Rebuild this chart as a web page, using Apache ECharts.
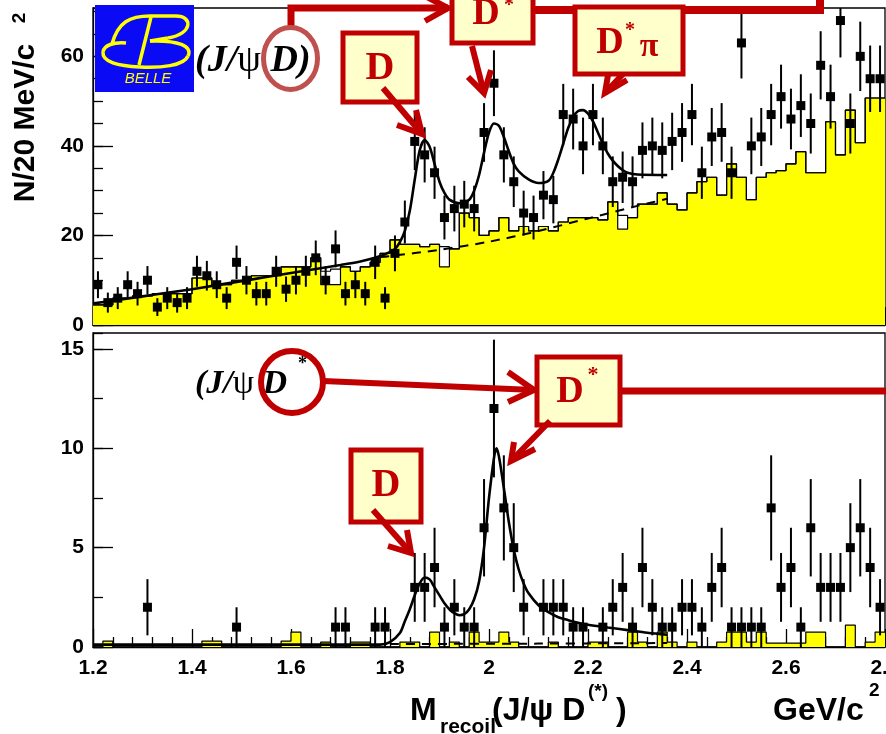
<!DOCTYPE html>
<html>
<head>
<meta charset="utf-8">
<script src="https://cdn.jsdelivr.net/npm/echarts@6/dist/echarts.min.js"></script>
<style>
  html, body { margin: 0; padding: 0; background: #fff; }
  #main { width: 886px; height: 734px; }
</style>
</head>
<body>
<div id="main"></div>
<script>
// Recoil mass spectra, 20 MeV bins from 1.2 to 2.8 GeV/c^2
const binStart = 1.2;
const binWidth = 0.02;

const xTickLabels = ['1.2', '1.4', '1.6', '1.8', '2', '2.2', '2.4', '2.6', '2.8'];
const topYTickLabels = ['0', '20', '40', '60'];
const botYTickLabels = ['0', '5', '10', '15'];

// J/psi D : data counts per bin
const topCounts = [
  9, 5, 6, 9, 7, 10, 4, 6, 5, 6,
  12, 11, 9, 6, 14, 10, 7, 7, 12, 8,
  10, 12, 15, 10, 17, 7, 9, 7, 14, 6,
  16, 23, 41, 38, 34, 24, 26, 27, 26, 43,
  54, 38, 32, 25, 24, 29, 28, 47, 46, 40,
  47, 40, 32, 33, 32, 39, 40, 39, 41, 43,
  47, 34, 42, 43, 34, 63, 40, 42, 47, 51,
  46, 49, 45, 58, 51, 68, 45, 60, 55, 55
];
// J/psi D : sideband histogram (filled)
const topSideband = [
  4.5, 4.5, 6, 6, 6.5, 6.5, 7, 7, 7, 7,
  10.5, 10.5, 9, 9, 10, 10, 11, 11, 11, 13,
  13, 13, 15, 9, 9, 13, 12, 13, 14, 16,
  19, 18, 18, 17.5, 18, 13, 17, 25, 24, 20,
  21, 24, 21, 22, 21, 22, 21, 23, 24, 24,
  24, 23.5, 27.5, 21.4, 24, 27, 27, 29.5, 27, 25.7,
  29.5, 32, 33, 29, 36, 33, 28, 33, 34, 34.5,
  36, 38.7, 34, 34, 45.4, 38, 48, 40.7, 50.7, 50.7
];
// J/psi D : second background histogram (outline only)
const topOutline = [
  4.5, 4.5, 6, 6, 6.5, 6.5, 7, 7, 7, 7,
  10.5, 10.5, 9, 9, 10, 10, 11, 11, 11, 13,
  13, 13, 15, 12, 12.5, 13, 12, 13, 14, 16,
  19, 18, 18, 17.5, 18, 17.5, 17, 25, 24, 20,
  21, 24, 21, 22, 21, 22, 21, 23, 24, 24,
  24, 23.5, 27.5, 24.5, 24, 27, 27, 29.5, 27, 25.7,
  29.5, 32, 33, 29, 36, 33, 28, 33, 34, 34.5,
  36, 38.7, 34, 34, 45.4, 38, 48, 40.7, 50.7, 50.7
];
// J/psi D : fit (signal + background) and background component
const topFit = [
  [1.20, 4.8], [1.25, 5.6], [1.30, 6.4], [1.35, 7.2], [1.40, 8.0], [1.45, 8.9],
  [1.50, 9.8], [1.55, 10.7], [1.60, 11.6], [1.65, 12.5], [1.70, 13.4], [1.74, 14.2],
  [1.77, 15.0], [1.79, 15.8], [1.81, 17.0], [1.82, 18.5], [1.83, 21.0], [1.84, 25.5],
  [1.85, 32.5], [1.86, 39.0], [1.87, 41.3], [1.88, 39.8], [1.89, 36.0], [1.90, 32.0],
  [1.91, 29.5], [1.92, 28.0], [1.94, 27.2], [1.96, 28.0], [1.97, 30.0], [1.98, 33.5],
  [1.99, 38.5], [2.00, 43.0], [2.01, 45.0], [2.02, 44.5], [2.03, 42.0], [2.04, 38.8],
  [2.05, 36.0], [2.06, 34.3], [2.08, 32.5], [2.10, 31.7], [2.12, 32.2], [2.13, 34.0],
  [2.14, 37.0], [2.15, 40.5], [2.16, 44.0], [2.17, 46.5], [2.18, 47.8], [2.19, 48.0],
  [2.20, 47.2], [2.21, 45.5], [2.22, 43.0], [2.23, 40.5], [2.24, 38.3], [2.25, 36.7],
  [2.26, 35.5], [2.27, 34.6], [2.28, 34.0], [2.30, 33.6], [2.36, 33.5]
];
const topBkg = [
  [1.78, 15.2], [1.80, 15.4], [1.90, 16.8], [2.00, 18.6], [2.10, 21.0],
  [2.20, 23.8], [2.30, 26.6], [2.36, 28.2]
];

// J/psi D* : data counts per bin
const botCounts = [
  0, 0, 0, 0, 0, 2, 0, 0, 0, 0,
  0, 0, 0, 0, 1, 0, 0, 0, 0, 0,
  0, 0, 0, 0, 1, 1, 0, 0, 1, 1,
  0, 0, 3, 3, 4, 1, 2, 1, 1, 6,
  12, 7, 5, 2, 0, 2, 2, 2, 1, 1,
  0, 1, 2, 3, 1, 4, 2, 1, 1, 2,
  2, 1, 3, 4, 1, 1, 1, 1, 7, 3,
  4, 1, 6, 3, 3, 3, 5, 6, 4, 2
];
const botSideband = [
  0, 0.3, 0, 0, 0, 0, 0, 0, 0, 0,
  0, 0.3, 0.3, 0, 0, 0, 0, 0, 0, 0.3,
  0.75, 0, 0, 0.25, 0, 0, 0.25, 0.25, 0, 0,
  0, 0.25, 0.25, 0, 0.75, 0, 0.25, 0, 0.75, 0.25,
  0.25, 0.75, 0.25, 0, 0, 0, 0.25, 0, 0, 0,
  0.25, 0.25, 0, 0, 0.75, 0.25, 0, 0.75, 0.25, 0,
  0.25, 0, 0, 0.25, 0.75, 0.75, 0.25, 0.75, 0.2, 0.2,
  0.2, 0.2, 0.75, 0.75, 0, 0, 1.1, 0, 0.25, 0.75
];
const botFit = [
  [1.20, 0.12], [1.50, 0.12], [1.78, 0.12], [1.80, 0.25], [1.82, 0.7], [1.83, 1.3],
  [1.84, 1.9], [1.85, 2.6], [1.86, 3.2], [1.87, 3.5], [1.88, 3.4], [1.89, 3.0],
  [1.90, 2.6], [1.91, 2.2], [1.92, 1.9], [1.93, 1.7], [1.94, 1.6], [1.95, 1.65],
  [1.96, 1.9], [1.97, 2.4], [1.98, 3.3], [1.99, 5.0], [2.00, 7.5], [2.01, 9.5],
  [2.015, 10.0], [2.02, 9.6], [2.03, 8.0], [2.04, 6.3], [2.05, 4.9], [2.06, 3.9],
  [2.07, 3.2], [2.08, 2.7], [2.10, 2.1], [2.12, 1.75], [2.14, 1.5], [2.16, 1.35],
  [2.18, 1.22], [2.20, 1.12], [2.24, 0.98], [2.28, 0.85], [2.32, 0.72], [2.36, 0.62]
];
const botBkg = [[1.80, 0.15], [2.10, 0.17], [2.36, 0.2]];

const topMax = 70.8;
const botMax = 15.8;

const RED = '#C00000';
const BOX_FILL = '#FFFFCC';
const tickFont = { fontFamily: 'Liberation Sans', fontWeight: 'bold', fontSize: 21, color: '#000' };

function histData(vals) {
  const out = vals.map((v, i) => [binStart + i * binWidth, v]);
  out.push([binStart + vals.length * binWidth, vals[vals.length - 1]]);
  return out;
}
function pointData(counts) {
  const out = [];
  counts.forEach((n, i) => {
    if (n > 0) out.push([binStart + (i + 0.5) * binWidth, n, Math.sqrt(n)]);
  });
  return out;
}

function xAxisCfg(gridIndex, showLabels) {
  return {
    type: 'value', gridIndex, min: 1.2, max: 2.8, interval: 0.2,
    axisLine: { show: true, onZero: false, lineStyle: { color: '#000', width: 1.3 } },
    axisTick: { show: true, inside: true, length: 18, lineStyle: { color: '#000', width: 1.3 } },
    minorTick: { show: true, splitNumber: 5, length: 10, lineStyle: { color: '#000', width: 1.3 } },
    splitLine: { show: false },
    axisLabel: Object.assign({
      show: showLabels, margin: 11, hideOverlap: false,
      formatter: v => xTickLabels[Math.round((v - 1.2) / 0.2)] || ''
    }, tickFont)
  };
}
function yMajorCfg(gridIndex, max, interval, labels) {
  return {
    type: 'value', gridIndex, min: 0, max, interval, position: 'left',
    axisLine: { show: true, onZero: false, lineStyle: { color: '#000', width: 1.3 } },
    axisTick: { show: true, inside: true, length: 20, lineStyle: { color: '#000', width: 1.3 } },
    splitLine: { show: false },
    axisLabel: Object.assign({
      margin: 9, showMaxLabel: false,
      formatter: v => labels[Math.round(v / interval)] || ''
    }, tickFont)
  };
}
function yMinorCfg(gridIndex, max, interval) {
  return {
    type: 'value', gridIndex, min: 0, max, interval, position: 'left',
    axisLine: { show: false },
    axisTick: { show: true, inside: true, length: 10, lineStyle: { color: '#000', width: 1.3 } },
    splitLine: { show: false },
    axisLabel: { show: false }
  };
}

function histSeries(vals, xi, yi, filled, z) {
  return {
    type: 'line', xAxisIndex: xi, yAxisIndex: yi, step: 'end', symbol: 'none',
    data: histData(vals), z, silent: true,
    lineStyle: { color: '#000', width: 1.2 },
    areaStyle: filled ? { color: '#FFFF00', opacity: 1 } : undefined
  };
}
function curveSeries(pts, xi, yi, dashed) {
  return {
    type: 'line', xAxisIndex: xi, yAxisIndex: yi, smooth: 0.3, symbol: 'none',
    data: pts, z: 3, silent: true,
    lineStyle: { color: '#000', width: dashed ? 2 : 2.6, type: dashed ? [9, 7] : 'solid' }
  };
}
function errorSeries(counts, xi, yi, yMax) {
  return {
    type: 'custom', xAxisIndex: xi, yAxisIndex: yi, z: 4, silent: true,
    data: pointData(counts), encode: { x: 0, y: 1 },
    renderItem(params, api) {
      const x = api.value(0), v = api.value(1), e = api.value(2);
      const lo = api.coord([x, Math.max(v - e, 0)]);
      const hi = api.coord([x, Math.min(v + e, yMax)]);
      return {
        type: 'line',
        shape: { x1: lo[0], y1: lo[1], x2: hi[0], y2: hi[1] },
        style: { stroke: '#000', lineWidth: 2 }
      };
    }
  };
}
function markerSeries(counts, xi, yi) {
  return {
    type: 'scatter', xAxisIndex: xi, yAxisIndex: yi, z: 5, silent: true,
    symbol: 'rect', symbolSize: 9, itemStyle: { color: '#000', opacity: 1 },
    data: pointData(counts).map(p => [p[0], p[1]])
  };
}

// annotation helpers (pixel space overlay)
function seg(points, color, width) {
  return { type: 'polyline', z: 100, shape: { points },
    style: { stroke: color, lineWidth: width, fill: null, lineJoin: 'miter', lineCap: 'butt' } };
}
function arrow(from, to, barbA, barbB) {
  return [seg([from, to], RED, 6), seg([barbA, to, barbB], RED, 6)];
}
function box(x, y, w, h) {
  return { type: 'rect', z: 100, shape: { x, y, width: w, height: h },
    style: { fill: BOX_FILL, stroke: RED, lineWidth: 5 } };
}
function label(text, x, y, size, extra) {
  return { type: 'text', z: 101, x, y, style: Object.assign({
    text, fill: RED, font: 'bold ' + size + 'px "Liberation Serif"',
    textAlign: 'center', textVerticalAlign: 'middle' }, extra || {}) };
}
function plain(text, x, y, font, extra) {
  return { type: 'text', z: 101, x, y, style: Object.assign({
    text, fill: '#000', font, textAlign: 'left', textVerticalAlign: 'middle' }, extra || {}) };
}
function curve(p0, c1, c2, p1, color, width) {
  return { type: 'bezierCurve', z: 101,
    shape: { x1: p0[0], y1: p0[1], cpx1: c1[0], cpy1: c1[1], cpx2: c2[0], cpy2: c2[1], x2: p1[0], y2: p1[1] },
    style: { stroke: color, lineWidth: width, fill: null } };
}

const axisFont = 'bold 32px "Liberation Sans"';
const smallAxisFont = 'bold 21px "Liberation Sans"';
const LOGO_YELLOW = '#FFFF00';

const graphics = [
  // Belle logo
  { type: 'rect', z: 100, shape: { x: 95, y: 5, width: 99, height: 87 }, style: { fill: '#0A0AF5' } },
  curve([112, 44], [118, 22], [130, 16], [150, 16], LOGO_YELLOW, 3.5),
  seg([[150, 16], [176, 16]], LOGO_YELLOW, 3.5),
  curve([176, 16], [193, 16], [193, 34], [168, 38], LOGO_YELLOW, 3.5),
  seg([[168, 38], [150, 41]], LOGO_YELLOW, 3.5),
  curve([150, 41], [178, 40], [193, 46], [188, 56], LOGO_YELLOW, 3.5),
  curve([188, 56], [184, 66], [160, 68], [140, 67], LOGO_YELLOW, 3.5),
  curve([140, 67], [118, 66], [102, 62], [103, 52], LOGO_YELLOW, 3.5),
  curve([103, 52], [104, 45], [114, 42], [126, 43], LOGO_YELLOW, 3.5),
  seg([[151, 17], [139, 65]], LOGO_YELLOW, 3.5),
  { type: 'text', z: 101, x: 148, y: 79, style: { text: 'BELLE', fill: LOGO_YELLOW,
      font: 'italic 15px "Liberation Sans"', textAlign: 'center', textVerticalAlign: 'middle' } },

  // y axis title
  { type: 'text', z: 101, x: 26, y: 123, rotation: Math.PI / 2, style: { text: 'N/20 MeV/c',
      fill: '#000', font: 'bold 30px "Liberation Sans"', textAlign: 'center', textVerticalAlign: 'middle' } },
  { type: 'text', z: 101, x: 20, y: 18, rotation: Math.PI / 2, style: { text: '2',
      fill: '#000', font: 'bold 19px "Liberation Sans"', textAlign: 'center', textVerticalAlign: 'middle' } },

  // x axis title
  plain('M', 410, 711, axisFont),
  plain('recoil', 440, 727, smallAxisFont),
  plain('(J/\u03C8 D', 492, 711, axisFont),
  plain('(*)', 588, 692, 'bold 19px "Liberation Sans"'),
  plain(')', 616, 711, axisFont),
  plain('GeV/c', 773, 711, axisFont),
  plain('2', 869, 691, 'bold 19px "Liberation Sans"'),

  // upper panel channel label
  { type: 'text', z: 101, x: 195, y: 61, style: {
      text: '{i|(J/}{p|\u03C8}{i| D)}', textAlign: 'left', textVerticalAlign: 'middle',
      rich: {
        i: { fontFamily: 'Liberation Serif', fontStyle: 'italic', fontWeight: 'bold', fontSize: 38, fill: '#000' },
        p: { fontFamily: 'Liberation Serif', fontSize: 38, fill: '#000' }
      } } },
  { type: 'ellipse', z: 102, shape: { cx: 290.5, cy: 58.5, rx: 27, ry: 31 },
    style: { stroke: '#C0504D', lineWidth: 5, fill: null } },
  seg([[291, 28], [291, 8], [448, 8]], RED, 7),
  seg([[425, -4], [448, 8], [425, 21]], RED, 6),
  box(452, -10, 81, 53),
  label('D', 486, 14, 38),
  label('*', 509, 6, 20),
  seg([[533, 10], [820, 10], [820, -2]], RED, 8),
  box(575, 7, 108, 67),
  label('D', 610, 43, 38),
  label('*', 630, 31, 20),
  label('\u03C0', 649, 47, 34),
  box(343, 33, 74, 69),
  label('D', 380, 69, 40),
  ...arrow([383, 88], [422, 134], [397, 125], [416, 110]),
  ...arrow([472, 46], [484, 93], [468, 77], [491, 70]),
  ...arrow([623, 74], [605, 93], [608, 75], [627, 80]),

  // lower panel channel label
  { type: 'text', z: 101, x: 195, y: 384, style: {
      text: '{i|(J/}{p|\u03C8}{i| D}', textAlign: 'left', textVerticalAlign: 'middle',
      rich: {
        i: { fontFamily: 'Liberation Serif', fontStyle: 'italic', fontWeight: 'bold', fontSize: 34, fill: '#000' },
        p: { fontFamily: 'Liberation Serif', fontSize: 34, fill: '#000' }
      } } },
  plain('*', 298, 364, 'bold 18px "Liberation Serif"'),
  { type: 'circle', z: 102, shape: { cx: 292, cy: 382, r: 31 },
    style: { stroke: RED, lineWidth: 6, fill: null } },
  ...arrow([323, 381], [534, 390], [508, 372], [508, 402]),
  box(537, 357, 83, 68),
  label('D', 570, 392, 38),
  label('*', 593, 375, 22),
  seg([[620, 391], [886, 391]], RED, 7),
  ...arrow([550, 421], [511, 461], [514, 442], [535, 449]),
  box(351, 450, 70, 72),
  label('D', 386, 486, 40),
  ...arrow([373, 510], [411, 553], [388, 546], [407, 530])
];

const chart = echarts.init(document.getElementById('main'), null, { renderer: 'canvas' });
chart.setOption({
  animation: false,
  backgroundColor: '#fff',
  grid: [
    { left: 93, right: 1, top: 8, bottom: 409, show: true, borderColor: '#000', borderWidth: 1.3,
      backgroundColor: 'transparent', containLabel: false, outerBoundsMode: 'none' },
    { left: 93, right: 1, top: 333, bottom: 87, show: true, borderColor: '#000', borderWidth: 1.3,
      backgroundColor: 'transparent', containLabel: false, outerBoundsMode: 'none' }
  ],
  xAxis: [xAxisCfg(0, false), xAxisCfg(1, true)],
  yAxis: [
    yMajorCfg(0, topMax, 20, topYTickLabels),
    yMinorCfg(0, topMax, 5),
    yMajorCfg(1, botMax, 5, botYTickLabels),
    yMinorCfg(1, botMax, 2.5)
  ],
  series: [
    histSeries(topSideband, 0, 0, true, 1),
    histSeries(topOutline, 0, 0, false, 2),
    curveSeries(topBkg, 0, 0, true),
    curveSeries(topFit, 0, 0, false),
    errorSeries(topCounts, 0, 0, topMax),
    markerSeries(topCounts, 0, 0),
    histSeries(botSideband, 1, 2, true, 1),
    curveSeries(botBkg, 1, 2, true),
    curveSeries(botFit, 1, 2, false),
    errorSeries(botCounts, 1, 2, botMax),
    markerSeries(botCounts, 1, 2)
  ],
  graphic: { elements: graphics }
});
</script>
</body>
</html>
